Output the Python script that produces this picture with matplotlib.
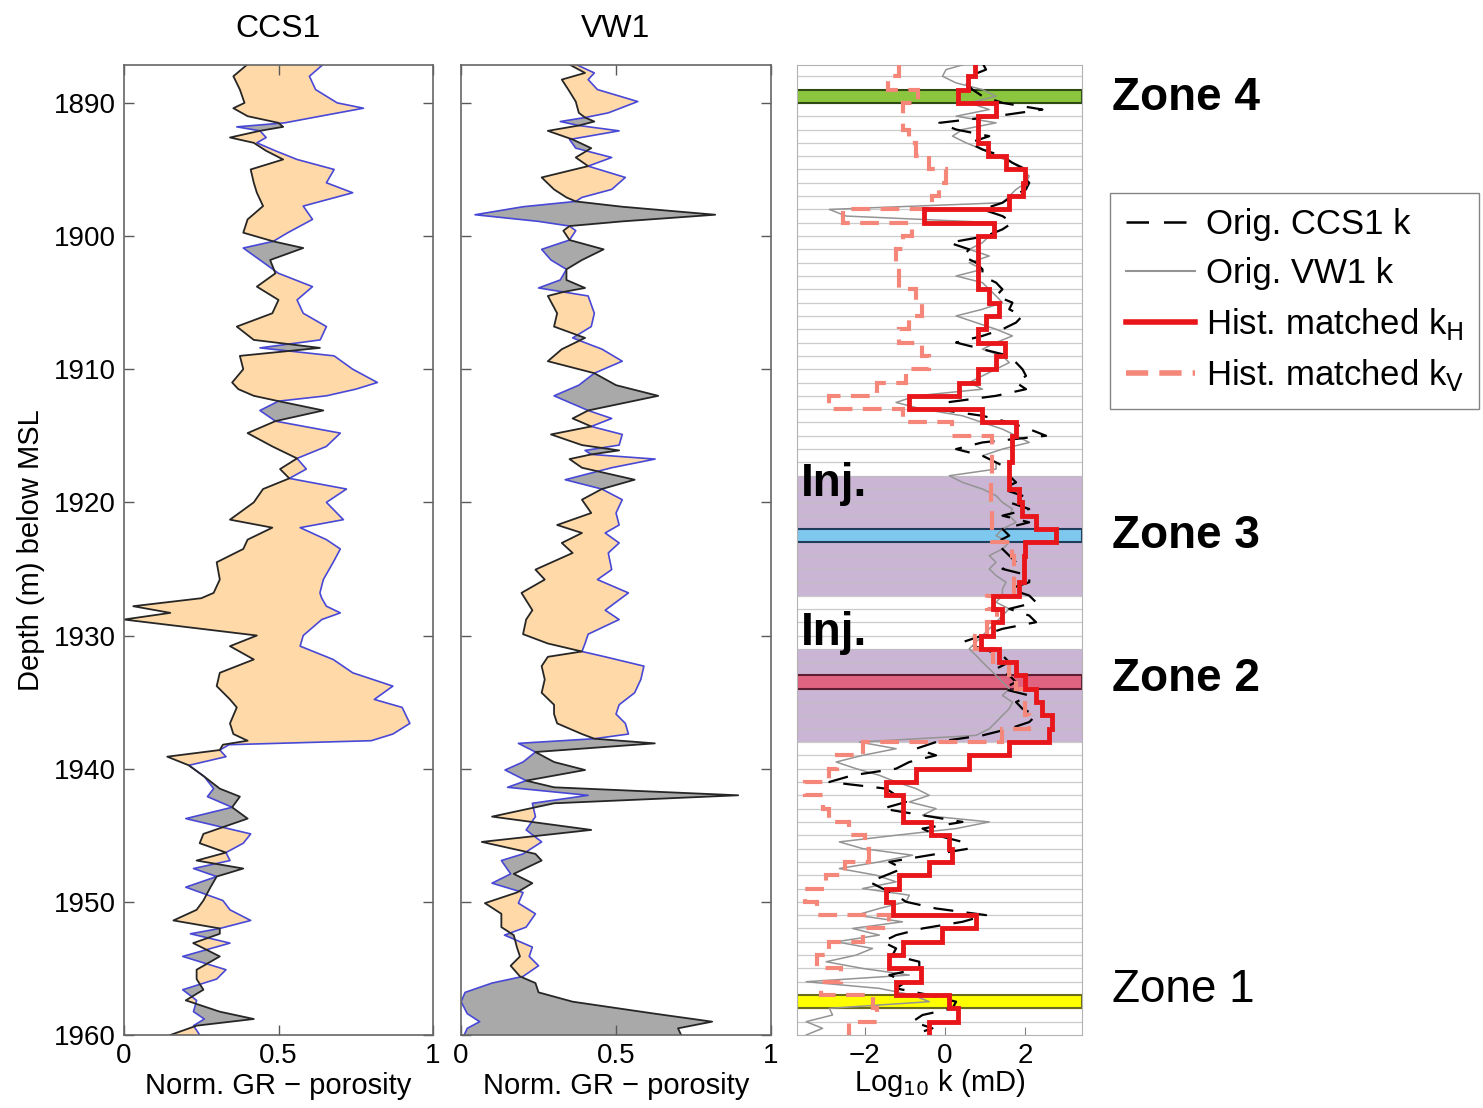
import numpy as np
import matplotlib
matplotlib.use('Agg')
import matplotlib.pyplot as plt
from matplotlib.lines import Line2D

plt.rcParams['font.family'] = ['Liberation Sans', 'DejaVu Sans']

# ---------------- CCS1 log: depth, normalised GR (black), porosity (blue)
ccs1_depth = [1887.1, 1888.0, 1889.0, 1890.0, 1890.4, 1891.0, 1891.5, 1891.8, 1892.1, 1892.6,
              1893.0, 1893.6, 1894.25, 1895.0, 1896.0, 1896.75, 1897.75, 1898.75, 1899.75, 1900.4,
              1900.9, 1901.8, 1902.8, 1903.8, 1904.8, 1905.8, 1906.8, 1907.8, 1908.4, 1909.0,
              1910.0, 1911.0, 1911.5, 1912.0, 1912.4, 1913.1, 1913.9, 1914.8, 1915.8, 1916.7,
              1917.5, 1918.2, 1919.0, 1920.0, 1921.3, 1921.9, 1922.8, 1923.5, 1924.5, 1925.8,
              1926.8, 1927.2, 1927.8, 1928.3, 1928.8, 1930.0, 1930.8, 1931.8, 1932.8, 1933.8,
              1934.8, 1935.4, 1936.6, 1937.4, 1937.9, 1938.2, 1938.6, 1939.1, 1939.75, 1940.6,
              1941.5, 1942.1, 1942.9, 1943.75, 1944.9, 1945.6, 1946.3, 1946.9, 1947.5, 1948.1,
              1948.9, 1949.9, 1950.6, 1951.4, 1952.0, 1952.4, 1953.1, 1954.1, 1955.1, 1955.8,
              1956.6, 1957.4, 1958.25, 1958.8, 1959.3, 1960.0]
ccs1_gr = [0.40, 0.354, 0.375, 0.39, 0.354, 0.40, 0.50, 0.515, 0.44, 0.343,
           0.42, 0.46, 0.515, 0.41, 0.42, 0.43, 0.45, 0.40, 0.386, 0.483,
           0.58, 0.473, 0.49, 0.43, 0.50, 0.48, 0.365, 0.42, 0.634, 0.375,
           0.386, 0.35, 0.37, 0.42, 0.50, 0.645, 0.49, 0.40, 0.48, 0.56,
           0.505, 0.535, 0.45, 0.42, 0.343, 0.48, 0.40, 0.386, 0.30, 0.31,
           0.29, 0.25, 0.03, 0.15, 0.0, 0.43, 0.343, 0.42, 0.31, 0.30,
           0.343, 0.365, 0.343, 0.354, 0.40, 0.32, 0.31, 0.14, 0.21, 0.26,
           0.31, 0.375, 0.35, 0.40, 0.257, 0.245, 0.33, 0.235, 0.386, 0.30,
           0.28, 0.257, 0.235, 0.16, 0.31, 0.31, 0.224, 0.31, 0.235, 0.235,
           0.257, 0.20, 0.31, 0.42, 0.235, 0.15]
ccs1_por = [0.645, 0.60, 0.62, 0.69, 0.775, 0.635, 0.52, 0.365, 0.44, 0.46,
            0.43, 0.49, 0.56, 0.68, 0.655, 0.74, 0.58, 0.61, 0.53, 0.483,
            0.386, 0.44, 0.50, 0.61, 0.56, 0.58, 0.655, 0.635, 0.44, 0.68,
            0.74, 0.82, 0.75, 0.655, 0.50, 0.44, 0.49, 0.70, 0.655, 0.56,
            0.59, 0.535, 0.72, 0.655, 0.71, 0.57, 0.655, 0.70, 0.677, 0.645,
            0.634, 0.64, 0.655, 0.70, 0.64, 0.58, 0.57, 0.677, 0.74, 0.87,
            0.81, 0.90, 0.925, 0.87, 0.80, 0.34, 0.31, 0.33, 0.21, 0.26,
            0.29, 0.27, 0.35, 0.20, 0.41, 0.386, 0.33, 0.343, 0.225, 0.30,
            0.20, 0.32, 0.343, 0.41, 0.31, 0.215, 0.343, 0.19, 0.33, 0.30,
            0.19, 0.235, 0.225, 0.26, 0.225, 0.245]

# ---------------- VW1 log
vw1_depth = [1887.0, 1887.75, 1888.25, 1889.0, 1889.9, 1890.75, 1891.1, 1891.4, 1891.7, 1892.1,
             1892.75, 1893.4, 1894.1, 1894.75, 1895.6, 1896.5, 1897.1, 1897.4, 1897.8, 1898.4,
             1898.9, 1899.25, 1899.6, 1900.3, 1901.0, 1901.8, 1902.5, 1903.3, 1903.9, 1904.2,
             1904.5, 1905.8, 1906.8, 1907.65, 1908.5, 1909.4, 1910.3, 1911.2, 1912.0, 1913.1,
             1913.7, 1914.3, 1914.9, 1915.7, 1916.1, 1916.4, 1916.75, 1917.4, 1918.3, 1919.0,
             1919.8, 1920.8, 1921.7, 1922.3, 1923.05, 1923.8, 1925.05, 1925.8, 1926.8, 1928.1,
             1928.8, 1929.9, 1930.6, 1931.2, 1931.6, 1932.3, 1933.3, 1934.3, 1935.2, 1935.9,
             1936.6, 1937.4, 1937.75, 1938.1, 1938.75, 1939.5, 1940.1, 1940.9, 1941.4, 1942.0,
             1942.6, 1943.6, 1944.6, 1945.5, 1946.4, 1946.9, 1947.9, 1948.6, 1949.3, 1950.1,
             1950.9, 1951.9, 1952.5, 1953.4, 1954.1, 1954.8, 1955.6, 1956.1, 1956.8, 1957.5,
             1958.4, 1959.0, 1959.5, 1960.0]
vw1_gr = [0.34, 0.40, 0.325, 0.346, 0.37, 0.38, 0.40, 0.43, 0.38, 0.28,
          0.36, 0.42, 0.37, 0.41, 0.26, 0.30, 0.34, 0.37, 0.52, 0.82,
          0.52, 0.35, 0.33, 0.35, 0.46, 0.39, 0.34, 0.34, 0.40, 0.33,
          0.28, 0.31, 0.30, 0.40, 0.325, 0.28, 0.43, 0.50, 0.636, 0.41,
          0.36, 0.42, 0.29, 0.39, 0.51, 0.42, 0.35, 0.39, 0.56, 0.454,
          0.39, 0.42, 0.31, 0.39, 0.325, 0.36, 0.24, 0.27, 0.195, 0.23,
          0.21, 0.20, 0.28, 0.39, 0.28, 0.26, 0.27, 0.26, 0.30, 0.30,
          0.31, 0.39, 0.43, 0.625, 0.24, 0.30, 0.40, 0.21, 0.30, 0.894,
          0.30, 0.10, 0.42, 0.067, 0.24, 0.26, 0.17, 0.23, 0.18, 0.077,
          0.13, 0.13, 0.17, 0.18, 0.19, 0.16, 0.19, 0.24, 0.25, 0.36,
          0.625, 0.81, 0.70, 0.71]
vw1_por = [0.36, 0.43, 0.41, 0.44, 0.57, 0.475, 0.40, 0.32, 0.38, 0.51,
           0.35, 0.37, 0.486, 0.41, 0.53, 0.486, 0.39, 0.37, 0.20, 0.045,
           0.25, 0.35, 0.37, 0.35, 0.26, 0.29, 0.34, 0.32, 0.25, 0.33,
           0.41, 0.43, 0.42, 0.36, 0.455, 0.52, 0.43, 0.38, 0.30, 0.41,
           0.486, 0.42, 0.52, 0.51, 0.40, 0.42, 0.626, 0.486, 0.336, 0.454,
           0.52, 0.50, 0.51, 0.465, 0.51, 0.475, 0.486, 0.44, 0.54, 0.465,
           0.51, 0.41, 0.40, 0.39, 0.465, 0.59, 0.58, 0.56, 0.51, 0.50,
           0.53, 0.54, 0.43, 0.185, 0.24, 0.20, 0.142, 0.21, 0.15, 0.41,
           0.23, 0.24, 0.21, 0.26, 0.20, 0.13, 0.16, 0.10, 0.20, 0.185,
           0.24, 0.21, 0.14, 0.23, 0.22, 0.25, 0.20, 0.10, 0.013, 0.0,
           0.02, 0.06, 0.02, 0.01]

# ---------------- permeability (log10 mD) on 0.5 m spacing, 1887 - 1960
k_depth = np.arange(1887.0, 1960.01, 0.5)
k_ccs1 = [0.94, 1.03, 0.61, 0.53, 0.69, 0.94, 1.44, 2.44, 1.28, -0.14,
          0.28, 1.11, 0.61, 0.94, 1.44, 1.69, 2.03, 1.94, 2.11, 2.03,
          1.69, 1.44, 0.94, 1.44, 1.69, 1.44, 1.03, 0.11, 0.61, 0.44,
          0.78, 0.94, 0.94, 1.28, 1.44, 1.28, 1.69, 1.61, 1.94, 1.78,
          1.44, 0.94, 0.28, 0.94, 1.61, 1.78, 1.94, 2.03, 1.78, 2.03,
          1.28, 0.03, -0.22, 0.94, 1.61, 2.11, 2.53, 0.94, 0.28, 0.94,
          1.28, 1.61, 1.61, 1.78, 1.44, 1.94, 1.61, 2.11, 1.44, 2.11,
          1.44, 1.61, 1.28, 1.44, 1.61, 1.78, 1.44, 2.11, 2.11, 1.61,
          2.11, 2.28, 1.61, 2.11, 2.28, 1.44, 0.94, 0.44, 0.94, 1.44,
          1.61, 1.28, 1.61, 1.78, 1.44, 2.11, 1.78, 1.94, 2.28, 2.11,
          1.61, 0.94, -0.22, -0.72, -0.22, -0.89, -1.22, -2.31, -2.89, -1.47,
          -1.22, -0.97, -1.56, -0.56, 0.44, -0.56, -0.22, 0.44, 0.61, -0.39,
          -1.39, -1.06, -1.47, -1.89, -1.56, -1.22, -0.97, -0.22, 1.03, 0.44,
          -0.56, -1.22, -1.56, -1.22, -1.31, -0.64, -0.64, -1.39, -0.97, -1.22,
          -0.39, 0.28, 0.19, -0.56, -0.81, -0.31, -0.81]
k_vw1 = [0.61, 0.03, -0.06, 0.28, 0.94, 1.28, 0.61, 1.11, 0.28, 1.28,
         0.44, 0.19, 0.53, 0.94, 1.28, 1.69, 1.94, 2.11, 2.03, 1.78,
         1.61, 1.44, -2.89, -2.47, 1.28, 1.28, 1.11, 0.94, 0.61, 1.11,
         0.61, 0.94, 0.28, 0.94, 1.11, 1.28, 1.44, 0.94, 0.28, 0.78,
         1.28, 1.69, 1.28, 0.94, 1.44, 1.61, 1.28, 0.94, 0.61, 0.94,
         -0.72, -1.22, -0.56, 0.44, 0.94, 1.44, 1.78, 2.11, 1.44, 0.94,
         1.28, 1.28, 0.11, 0.44, 0.94, 1.28, 1.44, 1.69, 1.61, 1.78,
         1.44, 1.28, 1.61, 1.44, 1.11, 1.28, 1.11, 1.28, 1.53, 1.44,
         1.44, 1.28, 1.61, 1.44, 1.28, 1.11, 0.94, 0.78, 0.61, 0.78,
         0.94, 1.11, 1.28, 1.44, 1.61, 1.44, 1.69, 1.61, 1.44, 1.28,
         1.11, 0.78, -2.14, -1.22, -2.06, -2.72, -2.22, -1.64, -1.22, -0.72,
         -0.39, -0.89, -0.22, -0.56, 1.11, 0.28, -1.22, -2.64, -2.06, -0.81,
         -1.64, -2.64, -1.72, -1.22, -2.06, -0.89, -0.97, -1.64, -2.22, -1.06,
         -2.31, -1.64, -2.72, -1.81, -2.22, -2.97, -2.06, -0.89, -3.47, -1.64,
         -0.81, -0.39, -2.89, -2.81, -3.47, -3.06, -3.47]

# history matched layers, 1 m thick
layer_edges = np.arange(1887, 1961)
k_h = [0.75, 0.57, 0.32, 1.27, 0.82, 0.82, 1.07, 1.52, 2.0, 1.95,
       1.6, -0.52, 1.23, 0.83, 0.83, 0.83, 0.83, 1.1, 1.36, 1.02,
       0.82, 1.5, 1.27, 0.82, 0.36, -0.89, 0.94, 1.77, 1.69, 1.69,
       1.6, 1.6, 1.86, 1.94, 2.27, 2.78, 2.0, 1.98, 1.98, 1.86,
       1.2, 1.44, 1.2, 0.9, 1.35, 1.77, 2.0, 2.27, 2.44, 2.69,
       2.6, 1.6, 0.6, -0.72, -1.47, -1.06, -1.06, -0.35, 0.1, 0.19,
       -0.39, -1.14, -1.47, -1.3, 0.77, -0.06, -1.06, -1.39, -0.6, -1.22,
       0.1, 0.32, -0.39]
k_v = [-1.14, -1.43, -0.68, -1.06, -1.06, -0.89, -0.72, -0.39, 0.03, -0.14,
       -0.31, -2.56, -0.81, -1.06, -1.22, -1.14, -1.14, -0.72, -0.56, -0.89,
       -1.14, -0.56, -0.39, -0.97, -1.7, -2.9, -1.06, 0.19, 1.19, 1.19,
       1.19, 1.15, 1.15, 1.19, 1.19, 1.19, 1.69, 1.73, 1.73, 1.73,
       1.05, 1.3, 1.05, 0.75, 1.2, 1.6, 1.77, 2.0, 2.0, 2.1,
       1.44, -2.06, -2.7, -2.9, -3.5, -3.06, -2.9, -2.4, -2.0, -1.9,
       -2.5, -2.97, -3.5, -3.2, -1.4, -2.06, -2.9, -3.2, -2.6, -3.1,
       -1.8, -1.7, -2.4]

# zones and injection intervals (top, bottom)
zone_names = ['Zone 4', 'Zone 3', 'Zone 2', 'Zone 1']
zone_tops = [1889.0, 1922.0, 1933.0, 1957.0]
zone_bottoms = [1890.0, 1923.0, 1934.0, 1958.0]
zone_colors = ['#8cc63f', '#7ec8ef', '#df6482', '#ffff00']
zone_edges = ['#2e4a12', '#1f3c5c', '#5c1e30', '#6a6a1e']
inj_tops = [1918.0, 1931.0]
inj_bottoms = [1927.0, 1938.0]

PEACH = '#ffdaa8'
GREY = '#a9a9a9'
BLUE = '#4848d6'

fig = plt.figure(figsize=(14.83, 11.08), dpi=100)
ax1 = fig.add_axes([0.0836, 0.0659, 0.2084, 0.8755])
ax2 = fig.add_axes([0.3109, 0.0659, 0.2090, 0.8755])
ax3 = fig.add_axes([0.5374, 0.0659, 0.1922, 0.8755])

ytop, ybot = 1887.15, 1960.0


def log_panel(ax, depth, gr, por, title):
    depth = np.array(depth)
    gr = np.array(gr)
    por = np.array(por)
    ax.fill_betweenx(depth, gr, por, where=por >= gr, interpolate=True,
                     color=PEACH, lw=0)
    ax.fill_betweenx(depth, gr, por, where=por < gr, interpolate=True,
                     color=GREY, lw=0)
    ax.plot(por, depth, color=BLUE, lw=1.2)
    ax.plot(gr, depth, color='#262626', lw=1.3)
    ax.set_xlim(0, 1)
    ax.set_ylim(ybot, ytop)
    ax.set_xticks([0, 0.5, 1])
    ax.set_xticklabels(['0', '0.5', '1'])
    ax.set_yticks(np.arange(1890, 1961, 10))
    ax.tick_params(direction='in', length=7, width=1, top=True, right=True,
                   labelsize=20, color='0.35', pad=6)
    ax.set_xlabel('Norm. GR \u2212 porosity', fontsize=21, labelpad=2)
    ax.set_title(title, fontsize=23, pad=20)
    for s in ax.spines.values():
        s.set_color('0.4')
        s.set_linewidth(1.2)


log_panel(ax1, ccs1_depth, ccs1_gr, ccs1_por, 'CCS1')
log_panel(ax2, vw1_depth, vw1_gr, vw1_por, 'VW1')
ax1.set_ylabel('Depth (m) below MSL', fontsize=21, labelpad=6)
ax2.set_yticklabels([])

# ---------------- permeability panel
for t, b in zip(inj_tops, inj_bottoms):
    ax3.axhspan(t, b, color='#cbb5d5', lw=0, zorder=0)
for d in layer_edges[1:-1]:
    ax3.axhline(d, color='0.75', lw=0.9, alpha=0.8, zorder=1)
for t, b, c, e in zip(zone_tops, zone_bottoms, zone_colors, zone_edges):
    ax3.axhspan(t, b, facecolor=c, edgecolor=e, lw=1.5, zorder=2)

ax3.plot(k_vw1, k_depth, color='0.58', lw=1.1, zorder=3)
ax3.plot(k_ccs1, k_depth, color='black', lw=1.6, dashes=(9, 6), zorder=4)
ax3.stairs(k_v, layer_edges, orientation='horizontal', baseline=None,
           color='#f4877a', lw=3, linestyle=(0, (4.5, 2.5)), zorder=5)
ax3.stairs(k_h, layer_edges, orientation='horizontal', baseline=None,
           color='#e8161b', lw=3.5, zorder=6)

for t in [1919.5, 1930.7]:
    ax3.text(-3.6, t, 'Inj.', fontsize=33, fontweight='bold', va='baseline',
             ha='left', zorder=7)

zone_text_y = [1890.5, 1923.4, 1934.2, 1957.5]
for name, y in zip(zone_names, zone_text_y):
    ax3.text(4.18, y, name, fontsize=33, va='baseline', ha='left',
             fontweight='normal' if name == 'Zone 1' else 'bold', clip_on=False)

ax3.set_xlim(-3.7, 3.43)
ax3.set_ylim(ybot, ytop)
ax3.set_xticks([-2, 0, 2])
ax3.set_xticklabels(['\u22122', '0', '2'])
ax3.set_yticks([])
ax3.tick_params(direction='in', length=6, labelsize=20, color='0.5', pad=6)
ax3.set_xlabel('Log$_{\\mathrm{10}}$ k (mD)', fontsize=21, labelpad=-2)
for s in ax3.spines.values():
    s.set_color('0.7')

handles = [
    Line2D([], [], color='black', lw=1.8, dashes=(9, 6)),
    Line2D([], [], color='0.58', lw=1.5),
    Line2D([], [], color='#e8161b', lw=4),
    Line2D([], [], color='#f4877a', lw=4, dashes=(4, 2)),
]
labels = ['Orig. CCS1 k', 'Orig. VW1 k', 'Hist. matched k$_{\\mathrm{H}}$',
          'Hist. matched k$_{\\mathrm{V}}$']
fig.legend(handles, labels, loc='upper left', bbox_to_anchor=(0.7485, 0.826),
           fontsize=25, frameon=True, fancybox=False, edgecolor='0.4',
           handlelength=2.0, handletextpad=0.3, labelspacing=0.45,
           borderpad=0.45, borderaxespad=0)

fig.savefig('out.png', dpi=100)
